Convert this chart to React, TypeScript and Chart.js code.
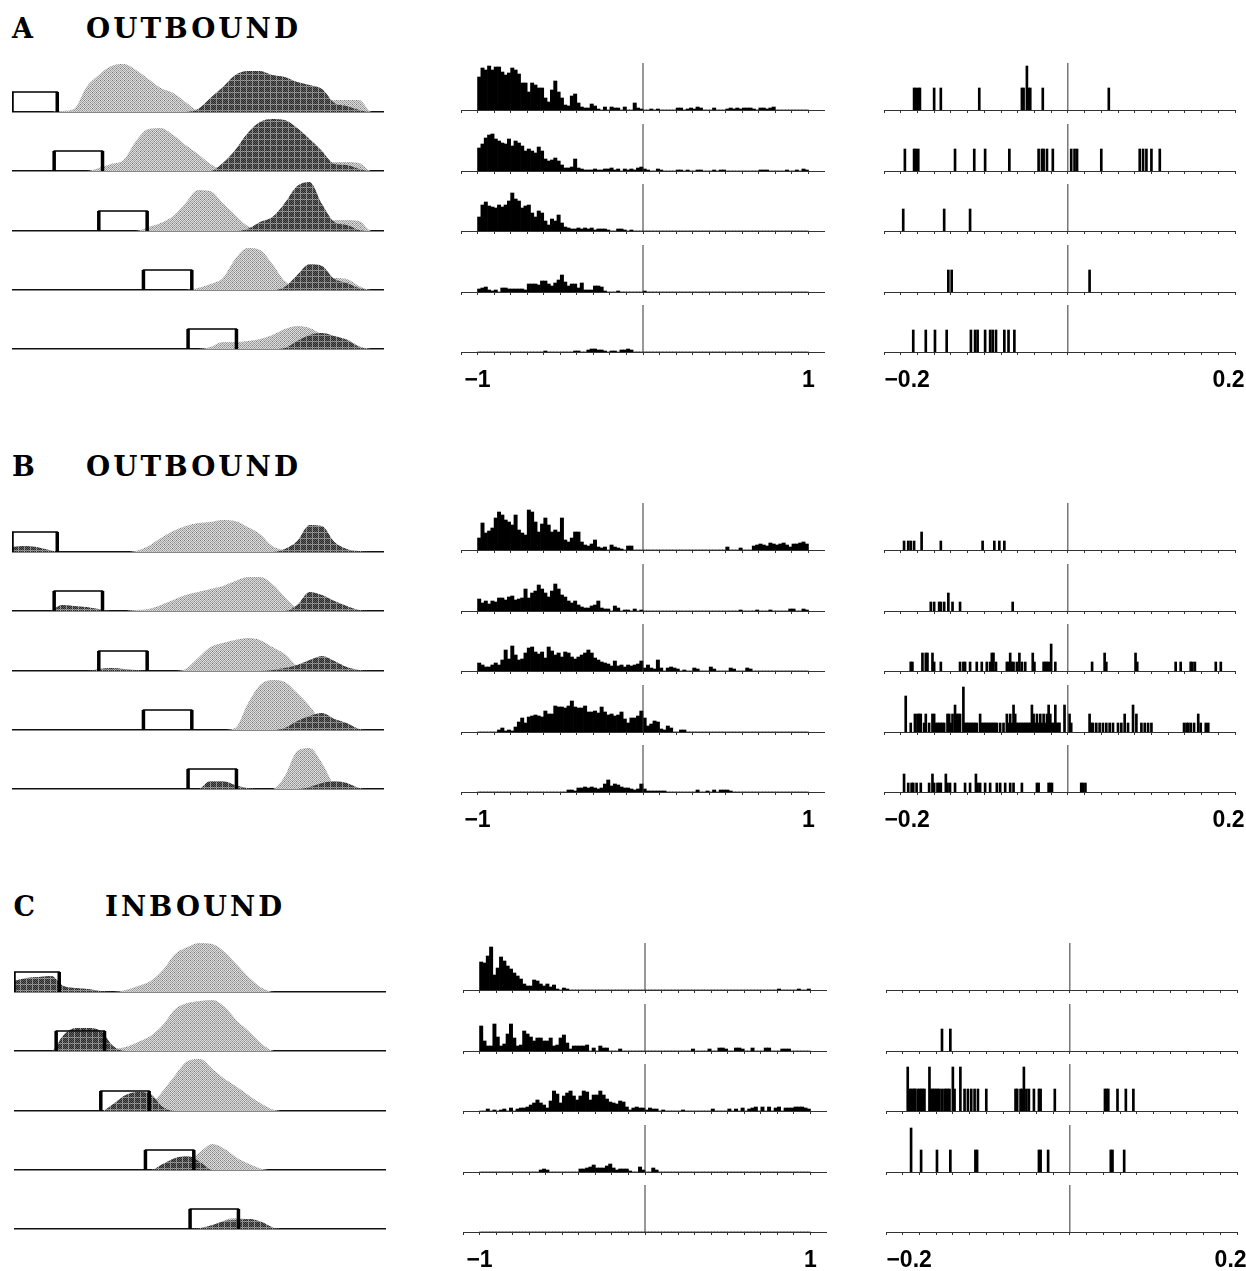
import React, { useEffect, useRef } from "react";
import { Chart, registerables } from "chart.js";
Chart.register(...registerables);

// ---------------- titles ----------------
const SECTION_LETTERS = ["A", "B", "C"];
const SECTION_WORDS = ["OUTBOUND", "OUTBOUND", "INBOUND"];

// ---------------- left column: track profiles ----------------
const TRACK_POS = [0,1,2,3,4,5,6,7,8,9,10,11,12,13,14,15,16,17,18,19,20,21,22,23,24,25,26,27,28,29,30];
const BOX_LEFT = [0, 3.4, 7.0, 10.6, 14.2];
const BOX_RIGHT = [3.65, 7.3, 10.9, 14.5, 18.1];
const BOX_TOP = 20;

const A_LIGHT_1 = [0,0,0,0,1,3,25,37,46,48,42,33,24,19,10,2,5,4,3,3,3,3,3,3,4,6,12,12,12,0,0];
const A_DARK_1 = [0,0,0,0,0,0,0,0,0,0,0,0,0,0,0,3,14,25,37,41,41,37,35,30,27,23,9,6,2,0,0];
const A_LIGHT_2 = [0,0,0,0,0,0,0,3,7,11,30,42,43,36,26,17,7,2,2,2,2,2,2,2,2,8,9,9,8,0,0];
const A_DARK_2 = [0,0,0,0,0,0,0,0,0,0,0,0,0,0,0,0,0,8,21,38,49,52,51,43,32,20,7,6,2,0,0];
const A_LIGHT_3 = [0,0,0,0,0,0,0,0,0,0,0,4,8,15,28,41,40,28,16,5,2,2,2,2,2,2,11,11,10,0,0];
const A_DARK_3 = [0,0,0,0,0,0,0,0,0,0,0,0,0,0,0,0,0,0,0,2,9,14,28,45,49,27,9,6,1,0,0];
const A_LIGHT_4 = [0,0,0,0,0,0,0,0,0,0,0,0,0,0,0,2,6,12,31,42,40,26,9,3,3,3,12,11,4,0,0];
const A_DARK_4 = [0,0,0,0,0,0,0,0,0,0,0,0,0,0,0,0,0,0,0,0,0,0,3,15,26,24,11,7,2,0,0];
const A_LIGHT_5 = [0,0,0,0,0,0,0,0,0,0,0,0,0,0,0,0,2,7,7,8,10,14,20,23,21,15,12,10,3,0,0];
const A_DARK_5 = [0,0,0,0,0,0,0,0,0,0,0,0,0,0,0,0,0,0,0,0,0,0,1,8,14,16,13,9,2,0,0];

const B_LIGHT_1 = [0,0,0,0,0,0,0,0,0,0,1,6,14,21,26,29,30,32,31,25,18,6,2,1,0,0,0,0,0,0,0];
const B_DARK_1 = [5,6,5,2,0,0,0,0,0,0,0,0,0,0,0,0,0,0,0,0,0,0,3,11,27,26,10,3,1,0,0];
const B_LIGHT_2 = [0,0,0,0,0,0,0,0,0,0,1,2,6,11,16,19,22,25,30,34,34,27,14,3,1,0,0,0,0,0,0];
const B_DARK_2 = [0,0,0,0,6,5,4,2,0,0,0,0,0,0,0,0,0,0,0,0,0,0,0,6,19,16,10,5,1,0,0];
const B_LIGHT_3 = [0,0,0,0,0,0,0,0,0,0,0,0,0,0,2,13,24,28,31,33,31,24,17,5,1,0,0,0,0,0,0];
const B_DARK_3 = [0,0,0,0,0,0,0,2,3,2,1,0,0,0,0,0,0,0,0,0,0,1,3,6,11,15,10,4,1,0,0];
const B_LIGHT_4 = [0,0,0,0,0,0,0,0,0,0,0,0,0,0,0,0,0,0,2,26,45,50,48,37,24,8,1,0,0,0,0];
const B_DARK_4 = [0,0,0,0,0,0,0,0,0,0,0,0,0,0,0,0,0,0,0,0,0,0,2,9,14,17,11,7,1,0,0];
const B_LIGHT_5 = [0,0,0,0,0,0,0,0,0,0,0,0,0,0,0,0,0,0,0,0,0,0,13,38,41,26,4,0,0,0,0];
const B_DARK_5 = [0,0,0,0,0,0,0,0,0,0,0,0,0,0,0,0,8,8,4,1,0,0,0,0,2,6,8,6,1,0,0];

const C_LIGHT_1 = [0,0,0,0,0,0,0,0,0,2,6,11,22,38,45,49,48,40,27,14,4,0,0,0,0,0,0,0,0,0,0];
const C_DARK_1 = [11,14,15,16,6,4,3,1,0,0,0,0,0,0,0,0,0,0,0,0,0,0,0,0,0,0,0,0,0,0,0];
const C_LIGHT_2 = [0,0,0,0,0,0,0,0,2,4,9,15,26,42,48,50,51,44,30,19,7,0,0,0,0,0,0,0,0,0,0];
const C_DARK_2 = [0,0,0,0,16,23,23,20,5,0,0,0,0,0,0,0,0,0,0,0,0,0,0,0,0,0,0,0,0,0,0];
const C_LIGHT_3 = [0,0,0,0,0,0,0,0,0,0,0,6,20,36,50,52,42,32,24,15,7,1,0,0,0,0,0,0,0,0,0];
const C_DARK_3 = [0,0,0,0,0,0,0,0,7,16,19,17,4,0,0,0,0,0,0,0,0,0,0,0,0,0,0,0,0,0,0];
const C_LIGHT_4 = [0,0,0,0,0,0,0,0,0,0,0,0,0,4,8,18,26,21,12,6,1,0,0,0,0,0,0,0,0,0,0];
const C_DARK_4 = [0,0,0,0,0,0,0,0,0,0,0,0,6,12,14,8,0,0,0,0,0,0,0,0,0,0,0,0,0,0,0];
const C_LIGHT_5 = [0,0,0,0,0,0,0,0,0,0,0,0,0,0,0,0,0,9,11,9,5,0,0,0,0,0,0,0,0,0,0];
const C_DARK_5 = [0,0,0,0,0,0,0,0,0,0,0,0,0,0,0,1,4,8,9,10,7,1,0,0,0,0,0,0,0,0,0];

const LIGHT = [
  [A_LIGHT_1, A_LIGHT_2, A_LIGHT_3, A_LIGHT_4, A_LIGHT_5],
  [B_LIGHT_1, B_LIGHT_2, B_LIGHT_3, B_LIGHT_4, B_LIGHT_5],
  [C_LIGHT_1, C_LIGHT_2, C_LIGHT_3, C_LIGHT_4, C_LIGHT_5],
];
const DARK = [
  [A_DARK_1, A_DARK_2, A_DARK_3, A_DARK_4, A_DARK_5],
  [B_DARK_1, B_DARK_2, B_DARK_3, B_DARK_4, B_DARK_5],
  [C_DARK_1, C_DARK_2, C_DARK_3, C_DARK_4, C_DARK_5],
];

// ---------------- middle column: histograms, -1 .. 1, bins of 0.02 ----------------
const MID_BIN_START = -1;
const MID_BIN_WIDTH = 0.02;
const MID_RANGE = [-1.1, 1.1];
const MID_TICKS = [-1.1,-1,-0.9,-0.8,-0.7,-0.6,-0.5,-0.4,-0.3,-0.2,-0.1,0,0.1,0.2,0.3,0.4,0.5,0.6,0.7,0.8,0.9,1,1.1];
const MID_TICK_LABELS = [{ value: -1, text: "\u22121" }, { value: 1, text: "1" }];

const A_MID_1 = [33,42,40,44,40,43,43,38,35,37,42,40,36,27,27,18,27,25,22,22,12,8,20,29,18,12,5,4,14,16,7,3,2,2,6,4,1,0,3,0,3,2,2,0,3,0,0,7,2,1,
  0,0,1,0,1,0,0,0,0,0,2,2,0,1,2,1,3,2,0,0,0,2,0,0,0,1,2,1,2,1,2,2,2,1,0,2,2,1,2,3,0,0,0,0,0,0,0,0,0,0];
const A_MID_2 = [23,27,33,36,37,32,30,28,27,32,25,30,28,25,20,22,20,18,24,20,12,10,11,13,10,6,3,3,4,12,3,2,1,1,1,2,1,1,2,2,3,1,2,0,2,1,2,1,3,4,
  2,1,0,0,2,1,0,0,0,0,1,1,0,1,0,0,1,1,0,0,0,1,0,1,1,0,0,0,0,0,0,0,0,0,0,1,1,1,0,0,0,0,0,1,0,0,1,0,2,1];
const A_MID_3 = [14,26,29,25,24,23,26,24,26,30,38,32,30,23,25,26,18,14,20,18,10,6,12,10,16,8,4,3,2,2,3,2,3,2,3,1,2,2,2,1,0,0,2,2,1,0,1,0,0,0,
  0,0,0,0,0,0,0,0,0,0,0,0,0,0,0,0,0,0,0,0,0,0,0,0,0,0,0,0,0,0,0,0,0,0,0,0,0,0,0,0,0,0,0,0,0,0,0,0,0,0];
const A_MID_4 = [3,4,5,2,1,2,0,4,4,3,3,3,3,3,2,8,8,8,7,11,11,8,6,9,12,17,10,6,8,8,4,9,2,2,2,6,6,5,1,0,0,0,1,0,0,0,0,0,0,0,
  1,0,0,0,0,0,0,0,0,0,0,0,0,0,0,0,0,0,0,0,0,0,0,0,0,0,0,0,0,0,0,0,0,0,0,0,0,0,0,0,0,0,0,0,0,0,0,0,0,0];
const A_MID_5 = [0,0,0,0,0,0,0,0,0,0,0,0,0,0,0,0,0,0,0,0,1,0,0,0,0,0,0,0,0,1,1,0,0,2,3,3,2,2,1,0,1,1,0,2,2,3,2,0,0,0,
  0,0,0,0,0,0,0,0,0,0,0,0,0,0,0,0,0,0,0,0,0,0,0,0,0,0,0,0,0,0,0,0,0,0,0,0,0,0,0,0,0,0,0,0,0,0,0,0,0,0];

const B_MID_1 = [12,27,17,19,22,32,38,35,30,28,25,35,20,17,15,40,38,28,18,26,32,25,18,20,18,32,10,8,12,18,18,8,5,4,6,10,3,2,3,0,5,3,2,1,0,4,4,0,0,0,
  0,0,0,0,0,0,0,0,0,0,0,0,0,0,0,0,0,0,0,0,0,0,0,0,0,3,0,0,0,2,0,0,0,4,5,6,5,4,7,6,5,6,7,5,3,6,6,7,8,6];
const B_MID_2 = [12,8,10,7,10,9,13,13,11,14,15,11,12,13,22,13,18,20,26,22,18,14,20,27,22,16,14,10,8,10,6,4,3,3,5,6,10,3,2,2,0,5,3,0,1,1,0,2,0,1,
  0,0,0,0,0,0,0,0,0,0,0,0,0,0,0,0,0,0,0,0,0,0,0,0,0,0,0,0,0,1,0,0,0,0,1,0,0,0,1,0,0,0,0,0,2,2,0,0,2,1];
const B_MID_3 = [8,6,4,4,6,8,6,11,21,12,25,16,11,12,18,23,24,19,17,19,13,24,20,16,18,14,19,18,14,12,14,16,18,21,18,13,11,9,8,7,5,10,5,6,4,6,5,6,7,10,
  3,6,3,2,11,3,0,3,4,3,2,0,1,0,0,3,2,0,0,0,4,2,0,0,0,0,3,2,0,0,0,3,2,0,0,0,0,0,0,0,0,0,0,0,0,0,0,0,0,0];
const B_MID_4 = [0,0,0,0,0,0,2,4,1,2,1,5,10,14,9,15,16,17,16,15,21,18,18,26,25,25,24,26,31,25,24,24,26,20,20,21,19,25,20,17,18,16,17,20,13,9,14,14,16,21,
  14,6,8,11,10,3,2,6,4,0,0,2,2,0,0,0,0,0,0,0,0,0,0,0,0,0,0,0,0,0,0,0,0,0,0,0,0,0,0,0,0,0,0,0,0,0,0,0,0,0];
const B_MID_5 = [0,0,0,0,0,0,0,0,0,0,0,0,0,0,0,0,0,0,0,0,0,0,0,0,0,0,0,2,2,1,4,4,5,4,5,4,3,4,8,12,6,8,7,5,4,4,3,2,3,8,
  3,1,1,1,1,1,1,0,0,0,0,0,0,0,0,0,2,0,0,1,0,2,0,2,2,2,1,0,0,0,0,0,0,0,0,0,0,0,0,0,0,0,0,0,0,0,0,0,0,0];

const C_MID_1 = [28,27,34,43,15,22,33,29,24,21,17,14,11,6,4,4,10,9,6,4,6,3,5,1,0,2,1,0,0,0,0,0,0,0,0,0,0,0,0,0,0,0,0,0,0,0,0,0,0,0,
  0,0,0,0,0,0,0,0,0,0,0,0,0,0,0,0,0,0,0,0,0,0,0,0,0,0,0,0,0,0,0,0,0,0,0,0,0,0,0,0,1,0,0,0,0,0,1,0,0,1];
const C_MID_2 = [25,10,5,5,27,14,5,7,17,27,13,5,6,20,17,14,10,13,13,10,10,13,5,6,13,16,8,2,5,5,5,5,6,0,3,0,5,3,3,0,0,0,2,0,0,0,0,0,0,0,
  0,0,0,0,0,0,0,0,0,0,0,0,0,0,2,0,0,0,0,2,0,0,3,3,2,0,0,3,3,2,0,0,3,0,0,0,3,3,0,0,0,2,2,2,0,0,0,0,0,0];
const C_MID_3 = [0,0,2,0,1,0,1,2,0,3,0,2,3,3,4,6,8,11,8,6,3,10,20,17,8,15,18,20,15,11,15,20,19,11,16,16,20,16,12,9,8,7,10,9,4,1,3,4,3,3,
  1,3,2,2,0,1,0,0,0,0,0,1,0,0,0,0,0,0,0,0,2,0,0,0,0,2,0,2,0,3,0,2,3,4,0,4,0,4,0,3,4,0,3,3,3,4,4,4,3,2];
const C_MID_4 = [0,0,0,0,0,0,0,0,0,0,0,0,0,0,0,0,0,0,2,3,2,0,0,0,0,0,0,0,0,0,3,3,4,5,7,4,4,4,6,8,4,2,3,3,3,1,0,0,5,2,
  0,0,4,2,0,0,0,0,0,0,0,0,0,0,0,0,0,0,0,0,0,0,0,0,0,0,0,0,0,0,0,0,0,0,0,0,0,0,0,0,0,0,0,0,0,0,0,0,0,0];
const C_MID_5 = [0,0,0,0,0,0,0,0,0,0,0,0,0,0,0,0,0,0,0,0,0,0,0,0,0,0,0,0,0,0,0,0,0,0,0,0,0,0,0,0,0,0,0,0,0,0,0,0,0,0,
  0,0,0,0,0,0,0,0,0,0,0,0,0,0,0,0,0,0,0,0,0,0,0,0,0,0,0,0,0,0,0,0,0,0,0,0,0,0,0,0,0,0,0,0,0,0,0,0,0,0];

const MID = [
  [A_MID_1, A_MID_2, A_MID_3, A_MID_4, A_MID_5],
  [B_MID_1, B_MID_2, B_MID_3, B_MID_4, B_MID_5],
  [C_MID_1, C_MID_2, C_MID_3, C_MID_4, C_MID_5],
];

// ---------------- right column: spike histograms, -0.2 .. 0.2 ([time, count]) ----------------
const RIGHT_RANGE = [-0.22, 0.2];
const RIGHT_TICKS = [-0.22,-0.2,-0.18,-0.16,-0.14,-0.12,-0.1,-0.08,-0.06,-0.04,-0.02,0,0.02,0.04,0.06,0.08,0.1,0.12,0.14,0.16,0.18,0.2];
// padding spaces nudge the end labels the way the original figure places them
const RIGHT_TICK_LABELS = [{ value: -0.2, text: "  \u22120.2" }, { value: 0.2, text: "0.2  " }];
const RIGHT_PX_PER_COUNT = [22, 9, 22];

const A_RIGHT_1 = [[-0.184,1],[-0.182,1],[-0.179,1],[-0.177,1],[-0.160,1],[-0.152,1],[-0.106,1],[-0.055,1],[-0.053,1],[-0.049,2],[-0.047,1],[-0.045,1],[-0.030,1],[0.049,1]];
const A_RIGHT_2 = [[-0.195,1],[-0.184,1],[-0.182,1],[-0.179,1],[-0.135,1],[-0.112,1],[-0.099,1],[-0.070,1],[-0.035,1],[-0.031,1],[-0.029,1],[-0.025,1],[-0.018,1],[0.004,1],[0.008,1],[0.011,1],[0.040,1],[0.086,1],[0.090,1],[0.094,1],[0.100,1],[0.110,1]];
const A_RIGHT_3 = [[-0.197,1],[-0.148,1],[-0.117,1]];
const A_RIGHT_4 = [[-0.143,1],[-0.139,1],[0.026,1]];
const A_RIGHT_5 = [[-0.185,1],[-0.170,1],[-0.159,1],[-0.145,1],[-0.116,1],[-0.111,1],[-0.108,1],[-0.099,1],[-0.093,1],[-0.090,1],[-0.086,1],[-0.076,1],[-0.071,1],[-0.064,1]];

const B_RIGHT_1 = [[-0.196,1],[-0.191,1],[-0.188,1],[-0.184,1],[-0.175,2],[-0.152,1],[-0.102,1],[-0.088,1],[-0.082,1],[-0.076,1]];
const B_RIGHT_2 = [[-0.164,1],[-0.160,1],[-0.154,1],[-0.152,1],[-0.148,1],[-0.143,2],[-0.138,1],[-0.129,1],[-0.066,1]];
const B_RIGHT_3 = [[-0.188,1],[-0.186,1],[-0.174,2],[-0.170,2],[-0.168,2],[-0.162,2],[-0.160,1],[-0.152,1],[-0.129,1],[-0.125,1],[-0.123,1],[-0.117,1],[-0.109,1],[-0.103,1],[-0.097,1],[-0.093,1],[-0.091,2],[-0.089,2],[-0.086,1],[-0.073,1],[-0.071,1],[-0.069,2],[-0.067,1],[-0.065,1],[-0.061,1],[-0.058,2],[-0.055,1],[-0.051,1],[-0.042,2],[-0.040,1],[-0.029,1],[-0.027,1],[-0.025,1],[-0.023,1],[-0.020,3],[-0.015,1],[0.029,1],[0.044,2],[0.046,1],[0.081,2],[0.083,1],[0.129,1],[0.135,1],[0.147,1],[0.149,1],[0.152,1],[0.177,1],[0.183,1]];
const B_RIGHT_4 = [[-0.194,4],[-0.188,1],[-0.183,2],[-0.180,2],[-0.178,2],[-0.176,2],[-0.172,1],[-0.170,2],[-0.166,1],[-0.162,2],[-0.160,2],[-0.158,1],[-0.156,1],[-0.154,1],[-0.152,1],[-0.150,1],[-0.148,1],[-0.144,2],[-0.142,2],[-0.140,1],[-0.138,2],[-0.135,3],[-0.133,2],[-0.131,2],[-0.129,2],[-0.125,5],[-0.123,1],[-0.121,1],[-0.119,1],[-0.117,1],[-0.115,1],[-0.113,1],[-0.111,1],[-0.109,1],[-0.105,2],[-0.103,1],[-0.101,1],[-0.099,1],[-0.097,1],[-0.095,1],[-0.093,1],[-0.091,1],[-0.089,1],[-0.087,1],[-0.085,1],[-0.081,1],[-0.077,1],[-0.073,2],[-0.071,1],[-0.069,2],[-0.067,1],[-0.065,3],[-0.063,2],[-0.061,1],[-0.059,1],[-0.057,1],[-0.055,1],[-0.053,1],[-0.051,1],[-0.049,1],[-0.047,1],[-0.045,1],[-0.043,3],[-0.041,2],[-0.039,1],[-0.037,2],[-0.035,1],[-0.033,2],[-0.031,1],[-0.029,2],[-0.027,1],[-0.025,2],[-0.023,3],[-0.021,2],[-0.019,1],[-0.017,1],[-0.015,3],[-0.013,1],[-0.011,1],[-0.010,1],[-0.004,3],[0.002,2],[0.004,1],[0.026,2],[0.028,1],[0.030,1],[0.034,1],[0.038,1],[0.042,1],[0.046,1],[0.050,1],[0.054,1],[0.060,1],[0.064,1],[0.068,2],[0.072,1],[0.078,3],[0.082,2],[0.088,1],[0.092,1],[0.096,1],[0.100,1],[0.139,1],[0.142,1],[0.144,1],[0.147,1],[0.151,1],[0.156,2],[0.159,1],[0.165,1],[0.168,1]];
const B_RIGHT_5 = [[-0.196,2],[-0.191,1],[-0.187,1],[-0.185,1],[-0.181,1],[-0.176,1],[-0.166,1],[-0.162,2],[-0.160,1],[-0.156,1],[-0.154,1],[-0.152,1],[-0.146,2],[-0.144,1],[-0.141,1],[-0.135,1],[-0.123,1],[-0.117,1],[-0.110,2],[-0.108,1],[-0.105,1],[-0.099,1],[-0.093,1],[-0.085,1],[-0.081,1],[-0.075,1],[-0.069,1],[-0.065,1],[-0.055,1],[-0.037,1],[-0.035,1],[-0.023,1],[-0.021,1],[-0.019,1],[0.016,1],[0.018,1],[0.021,1]];

const C_RIGHT_1 = [];
const C_RIGHT_2 = [[-0.153,1],[-0.143,1]];
const C_RIGHT_3 = [[-0.194,2],[-0.192,1],[-0.190,1],[-0.188,1],[-0.186,1],[-0.185,1],[-0.182,1],[-0.180,1],[-0.178,1],[-0.176,1],[-0.174,1],[-0.168,2],[-0.166,1],[-0.164,1],[-0.162,1],[-0.160,1],[-0.158,1],[-0.156,1],[-0.153,1],[-0.150,1],[-0.148,1],[-0.146,1],[-0.144,1],[-0.140,2],[-0.138,1],[-0.131,2],[-0.126,1],[-0.122,1],[-0.118,1],[-0.114,1],[-0.110,1],[-0.100,1],[-0.065,1],[-0.063,1],[-0.059,1],[-0.057,1],[-0.055,2],[-0.052,1],[-0.049,1],[-0.043,1],[-0.037,1],[-0.035,1],[-0.018,1],[0.042,1],[0.044,1],[0.046,1],[0.057,1],[0.067,1],[0.076,1]];
const C_RIGHT_4 = [[-0.190,2],[-0.178,1],[-0.159,1],[-0.143,1],[-0.113,1],[-0.111,1],[-0.037,1],[-0.035,1],[-0.026,1],[0.049,1],[0.051,1],[0.065,1]];
const C_RIGHT_5 = [];

const RIGHT = [
  [A_RIGHT_1, A_RIGHT_2, A_RIGHT_3, A_RIGHT_4, A_RIGHT_5],
  [B_RIGHT_1, B_RIGHT_2, B_RIGHT_3, B_RIGHT_4, B_RIGHT_5],
  [C_RIGHT_1, C_RIGHT_2, C_RIGHT_3, C_RIGHT_4, C_RIGHT_5],
];

// ---------------- layout constants ----------------
const SECTION_DY = [0, 440, 880];
const SECTION_DX = [0, 0, 1.5];
const TITLE_TOP = [14.5, 452.5, 892.5];
const WORD_LEFT = [86, 86, 105];
const WORD_WIDTH = [212, 212, 177];
const LEFT_BASE = [112, 171.25, 230.5, 289.75, 349];
const MID_BASE = [110, 170.5, 231, 291.5, 352];
const LEFT_X = 12, LEFT_W = 372, LEFT_AREA_H = 56;
const MID_X = 461, MID_W = 364;
const RIGHT_X = 884.3, RIGHT_W = 351, RIGHT_PAD = 32;
const AREA_H = 48, AREA_H_BOTTOM = 80, ZERO_LINE_PX = 47;
const TICK_LEN = 3, LABEL_PAD = 0, LABEL_LH = 52;

// ---------------- helpers ----------------
function lightPattern(ctx: CanvasRenderingContext2D) {
  const t = document.createElement("canvas");
  t.width = 4; t.height = 4;
  const g = t.getContext("2d")!;
  for (let y = 0; y < 4; y++) for (let x = 0; x < 4; x++) {
    let c = (x + y) % 2 === 0 ? "#a4a4a4" : "#dcdcdc";
    if (x === 0 && y === 0) c = "#777777";
    if (x === 2 && y === 2) c = "#8a8a8a";
    g.fillStyle = c; g.fillRect(x, y, 1, 1);
  }
  return ctx.createPattern(t, "repeat");
}
function darkPattern(ctx: CanvasRenderingContext2D) {
  const t = document.createElement("canvas");
  t.width = 6; t.height = 6;
  const g = t.getContext("2d")!;
  for (let y = 0; y < 6; y++) for (let x = 0; x < 6; x++) {
    let c = (x + y) % 2 === 0 ? "#262626" : "#626262";
    if (x === 0 || y === 0) c = (x + y) % 2 === 0 ? "#767676" : "#a2a2a2";
    g.fillStyle = c; g.fillRect(x, y, 1, 1);
  }
  return ctx.createPattern(t, "repeat");
}

function labelFor(labels: { value: number; text: string }[], v: number) {
  const f = labels.find((l) => Math.abs(l.value - v) < 1e-9);
  return f ? f.text : "";
}

function leftConfig(s: number, r: number) {
  return (ctx: CanvasRenderingContext2D) => {
    const light = LIGHT[s][r], dark = DARK[s][r];
    const L = BOX_LEFT[r], R = BOX_RIGHT[r];
    const pts = (arr: number[]) => TRACK_POS.map((x, i) => ({ x, y: arr[i] }));
    const common = { pointRadius: 0, fill: false, tension: 0, borderColor: "#000" };
    return {
      type: "line",
      data: {
        datasets: [
          { ...common, data: [{ x: L, y: 0 }, { x: L, y: BOX_TOP }, { x: R, y: BOX_TOP }, { x: R, y: 0 }], borderWidth: 1.3, order: 0 },
          { ...common, data: [{ x: L, y: 0 }, { x: L, y: BOX_TOP }], borderWidth: 3.5, order: 0 },
          { ...common, data: [{ x: R, y: 0 }, { x: R, y: BOX_TOP }], borderWidth: 3.5, order: 0 },
          { data: pts(dark), fill: "origin", backgroundColor: darkPattern(ctx), borderColor: "rgba(0,0,0,0)", borderWidth: 1, pointRadius: 0, cubicInterpolationMode: "monotone", order: 1 },
          { data: pts(light), fill: "origin", backgroundColor: lightPattern(ctx), borderColor: "rgba(0,0,0,0)", borderWidth: 1, pointRadius: 0, cubicInterpolationMode: "monotone", order: 2 },
        ],
      },
      options: {
        animation: false, responsive: false, events: [],
        layout: { autoPadding: false, padding: { left: 0, right: 0, top: 0, bottom: 2 } },
        plugins: { legend: { display: false }, tooltip: { enabled: false } },
        scales: {
          x: { type: "linear", min: TRACK_POS[0], max: TRACK_POS[TRACK_POS.length - 1], offset: false,
            grid: { display: false, drawTicks: false, tickLength: 0 }, ticks: { display: false },
            border: { display: true, color: "#111", width: 1.5 } },
          y: { min: 0, max: LEFT_AREA_H, display: false },
        },
      },
    };
  };
}

function axisOptions(ticks: number[], labels: any[], range: number[], yMax: number, isBottom: boolean, padRight: number) {
  return {
    animation: false, responsive: false, events: [],
    layout: { autoPadding: false, padding: { left: 0, right: padRight, top: 0, bottom: 0 } },
    plugins: { legend: { display: false }, tooltip: { enabled: false } },
    scales: {
      x: {
        type: "linear", min: range[0], max: range[1], offset: false,
        afterBuildTicks: (sc: any) => { sc.ticks = ticks.map((v) => ({ value: v })); },
        grid: { display: true, drawOnChartArea: false, drawTicks: true, tickLength: TICK_LEN, tickWidth: 1, tickColor: "#333", offset: false },
        border: { display: true, color: "#333", width: 1 },
        ticks: {
          display: isBottom, autoSkip: false, maxRotation: 0, minRotation: 0, padding: LABEL_PAD, color: "#000",
          font: { family: '"Liberation Sans", Arial, sans-serif', size: 23, weight: "bold", lineHeight: LABEL_LH + "px" },
          callback: (v: number) => labelFor(labels, v),
        },
      },
      y: { min: 0, max: yMax, display: false },
    },
  };
}

function midConfig(s: number, r: number) {
  return () => {
    const isBottom = r === 4;
    const areaH = isBottom ? AREA_H_BOTTOM : AREA_H;
    const vals = MID[s][r];
    return {
      type: "bar",
      data: {
        datasets: [
          { type: "line", data: [{ x: 0, y: 0 }, { x: 0, y: ZERO_LINE_PX }], borderColor: "#333", borderWidth: 1, pointRadius: 0, fill: false, order: 0 },
          { type: "bar", data: vals.map((v, i) => ({ x: MID_BIN_START + MID_BIN_WIDTH * (i + 0.5), y: v })), backgroundColor: "#000", borderWidth: 0, barPercentage: 1, categoryPercentage: 1, order: 1 },
        ],
      },
      options: axisOptions(MID_TICKS, MID_TICK_LABELS, MID_RANGE, areaH, isBottom, 0),
    };
  };
}

function rightConfig(s: number, r: number) {
  return () => {
    const isBottom = r === 4;
    const areaH = isBottom ? AREA_H_BOTTOM : AREA_H;
    const unit = RIGHT_PX_PER_COUNT[s];
    const spikes = RIGHT[s][r] as number[][];
    return {
      type: "bar",
      data: {
        datasets: [
          { type: "line", data: [{ x: 0, y: 0 }, { x: 0, y: ZERO_LINE_PX / unit }], borderColor: "#333", borderWidth: 1, pointRadius: 0, fill: false, order: 0 },
          { type: "bar", data: spikes.map((p) => ({ x: p[0], y: p[1] })), backgroundColor: "#000", borderWidth: 0, barThickness: 2, order: 1 },
        ],
      },
      options: axisOptions(RIGHT_TICKS, RIGHT_TICK_LABELS, RIGHT_RANGE, areaH / unit, isBottom, RIGHT_PAD),
    };
  };
}

function ChartCanvas(props: { left: number; top: number; width: number; height: number; make: (ctx: CanvasRenderingContext2D) => any }) {
  const ref = useRef<HTMLCanvasElement | null>(null);
  useEffect(() => {
    const c = ref.current;
    if (!c) return;
    const ctx = c.getContext("2d")!;
    const chart = new Chart(c, props.make(ctx));
    return () => chart.destroy();
  }, []);
  const { left, top, width, height } = props;
  return <canvas ref={ref} width={width} height={height} style={{ position: "absolute", left, top, width, height }} />;
}

let measureCtx: CanvasRenderingContext2D | null = null;
function measure(text: string, font: string) {
  if (!measureCtx) measureCtx = document.createElement("canvas").getContext("2d");
  measureCtx!.font = font;
  return measureCtx!.measureText(text).width;
}

function SectionTitle({ s }: { s: number }) {
  const font = 'bold 27px "DejaVu Serif", serif';
  const word = SECTION_WORDS[s];
  const spacing = 3;
  const natural = measure(word, font) + spacing * (word.length - 1);
  const scale = WORD_WIDTH[s] / natural;
  const base: React.CSSProperties = { position: "absolute", top: TITLE_TOP[s], font, lineHeight: "27px", whiteSpace: "nowrap", color: "#000" };
  return (
    <>
      <div style={{ ...base, left: 12 + SECTION_DX[s] }}>{SECTION_LETTERS[s]}</div>
      <div style={{ ...base, left: WORD_LEFT[s], letterSpacing: spacing, transform: `scaleX(${scale})`, transformOrigin: "0 0" }}>{word}</div>
    </>
  );
}

export default function App() {
  const items: any[] = [];
  for (let s = 0; s < 3; s++) {
    for (let r = 0; r < 5; r++) {
      const lb = LEFT_BASE[r] + SECTION_DY[s];
      items.push({ key: `l${s}${r}`, left: LEFT_X + SECTION_DX[s], top: lb - LEFT_AREA_H, width: LEFT_W, height: LEFT_AREA_H + 2, make: leftConfig(s, r) });
      const mb = MID_BASE[r] + SECTION_DY[s];
      const isBottom = r === 4;
      const areaH = isBottom ? AREA_H_BOTTOM : AREA_H;
      const axisH = isBottom ? TICK_LEN + 2 * LABEL_PAD + LABEL_LH : TICK_LEN;
      items.push({ key: `m${s}${r}`, left: MID_X + SECTION_DX[s], top: mb - areaH, width: MID_W, height: areaH + axisH, make: midConfig(s, r) });
      items.push({ key: `r${s}${r}`, left: RIGHT_X + SECTION_DX[s], top: mb - areaH, width: RIGHT_W + RIGHT_PAD, height: areaH + axisH, make: rightConfig(s, r) });
    }
  }
  return (
    <div style={{ position: "fixed", left: 0, top: 0, width: 1246, height: 1271, overflow: "hidden", background: "#fff" }}>
      {[0, 1, 2].map((s) => <SectionTitle key={s} s={s} />)}
      {items.map((it) => <ChartCanvas key={it.key} left={it.left} top={it.top} width={it.width} height={it.height} make={it.make} />)}
    </div>
  );
}
